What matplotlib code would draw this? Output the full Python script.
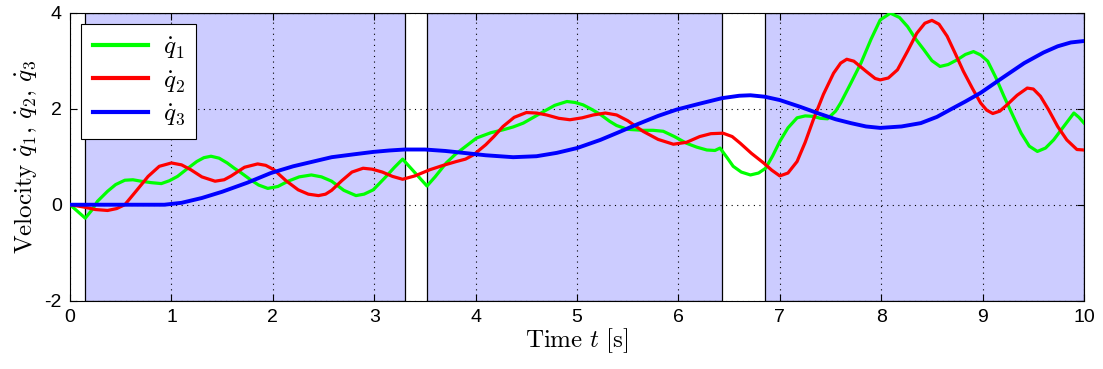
import numpy as np
import matplotlib
matplotlib.use('Agg')
from matplotlib import pyplot as plt

plt.rcParams['mathtext.fontset'] = 'cm'
plt.rcParams['font.family'] = ['Liberation Sans', 'DejaVu Sans']
plt.rcParams['axes.unicode_minus'] = False

# Velocity curves (time in s)
t_q1 = [0.0, 0.15, 0.22, 0.27, 0.37, 0.45, 0.54, 0.62, 0.70, 0.80, 0.90, 0.98, 1.06, 1.15, 1.25,
        1.32, 1.39, 1.47, 1.55, 1.62, 1.69, 1.78, 1.86, 1.95, 2.05, 2.15, 2.26, 2.38, 2.48, 2.58,
        2.70, 2.82, 2.90, 2.99, 3.10, 3.20, 3.28, 3.40, 3.52, 3.60, 3.71, 3.80, 3.88, 4.01, 4.15,
        4.27, 4.37, 4.47, 4.57, 4.67, 4.78, 4.90, 4.98, 5.06, 5.15, 5.23, 5.32, 5.39, 5.50, 5.65,
        5.75, 5.85, 5.96, 6.08, 6.18, 6.28, 6.36, 6.41, 6.48, 6.54, 6.62, 6.71, 6.79, 6.86, 6.93,
        7.00, 7.08, 7.17, 7.25, 7.33, 7.40, 7.47, 7.55, 7.60, 7.70, 7.80, 7.90, 7.99, 8.09, 8.18,
        8.26, 8.34, 8.42, 8.50, 8.58, 8.66, 8.75, 8.83, 8.91, 8.98, 9.05, 9.13, 9.21, 9.30, 9.38,
        9.46, 9.54, 9.62, 9.70, 9.80, 9.90, 9.95, 10.0]
q1 = [0.0, -0.28, -0.10, 0.07, 0.28, 0.42, 0.51, 0.52, 0.49, 0.46, 0.44, 0.50, 0.59, 0.74, 0.90,
      0.98, 1.01, 0.97, 0.87, 0.76, 0.66, 0.52, 0.41, 0.34, 0.38, 0.49, 0.58, 0.62, 0.58, 0.49,
      0.30, 0.19, 0.22, 0.31, 0.55, 0.78, 0.95, 0.67, 0.39, 0.58, 0.87, 1.05, 1.18, 1.39, 1.50,
      1.56, 1.62, 1.70, 1.82, 1.94, 2.07, 2.15, 2.13, 2.08, 1.98, 1.88, 1.74, 1.65, 1.57, 1.55,
      1.55, 1.53, 1.42, 1.28, 1.20, 1.14, 1.13, 1.18, 0.98, 0.80, 0.68, 0.62, 0.66, 0.76, 1.02,
      1.32, 1.60, 1.81, 1.85, 1.84, 1.80, 1.79, 1.95, 2.12, 2.53, 2.95, 3.45, 3.85, 3.99, 3.90,
      3.71, 3.45, 3.23, 3.00, 2.88, 2.92, 3.02, 3.13, 3.19, 3.12, 2.99, 2.65, 2.26, 1.85, 1.49,
      1.22, 1.11, 1.18, 1.35, 1.63, 1.91, 1.82, 1.70]

t_q2 = [0.0, 0.14, 0.25, 0.37, 0.46, 0.54, 0.65, 0.77, 0.88, 1.00, 1.10, 1.19, 1.30, 1.43, 1.52,
        1.59, 1.72, 1.85, 1.93, 2.01, 2.13, 2.25, 2.35, 2.45, 2.52, 2.58, 2.68, 2.78, 2.89, 2.98,
        3.08, 3.18, 3.28, 3.40, 3.55, 3.68, 3.81, 3.90, 3.98, 4.10, 4.18, 4.27, 4.38, 4.50, 4.60,
        4.70, 4.82, 4.93, 5.05, 5.16, 5.28, 5.39, 5.50, 5.65, 5.80, 5.95, 6.08, 6.21, 6.32, 6.44,
        6.53, 6.61, 6.72, 6.84, 6.92, 7.00, 7.08, 7.17, 7.25, 7.33, 7.43, 7.53, 7.60, 7.66, 7.73,
        7.85, 7.94, 7.99, 8.07, 8.16, 8.26, 8.35, 8.43, 8.50, 8.57, 8.65, 8.73, 8.81, 8.90, 8.98,
        9.04, 9.10, 9.17, 9.24, 9.34, 9.44, 9.50, 9.57, 9.65, 9.74, 9.83, 9.93, 10.0]
q2 = [0.0, -0.05, -0.10, -0.12, -0.08, 0.0, 0.28, 0.59, 0.80, 0.87, 0.83, 0.73, 0.58, 0.49, 0.52,
      0.60, 0.78, 0.85, 0.82, 0.73, 0.50, 0.31, 0.22, 0.19, 0.22, 0.30, 0.50, 0.68, 0.76, 0.74,
      0.68, 0.59, 0.53, 0.60, 0.73, 0.82, 0.90, 0.95, 1.04, 1.25, 1.42, 1.63, 1.82, 1.92, 1.91,
      1.87, 1.80, 1.77, 1.81, 1.87, 1.91, 1.87, 1.75, 1.53, 1.36, 1.26, 1.30, 1.42, 1.48, 1.49,
      1.42, 1.28, 1.07, 0.87, 0.72, 0.60, 0.66, 0.90, 1.30, 1.77, 2.30, 2.74, 2.95, 3.03, 2.99,
      2.78, 2.63, 2.60, 2.64, 2.81, 3.20, 3.57, 3.78, 3.84, 3.76, 3.51, 3.15, 2.78, 2.42, 2.12,
      1.97, 1.90, 1.95, 2.08, 2.28, 2.43, 2.41, 2.26, 1.98, 1.63, 1.35, 1.15, 1.14]

t_q3 = [0.0, 0.5, 0.93, 1.1, 1.3, 1.5, 1.75, 1.98, 2.2, 2.4, 2.58, 2.8, 2.99, 3.15, 3.3, 3.5,
        3.7, 3.88, 4.1, 4.37, 4.6, 4.8, 5.0, 5.23, 5.4, 5.6, 5.8, 5.98, 6.2, 6.43, 6.6, 6.71,
        6.85, 7.0, 7.2, 7.37, 7.55, 7.7, 7.85, 7.99, 8.2, 8.39, 8.55, 8.68, 8.83, 8.98, 9.2,
        9.41, 9.6, 9.74, 9.87, 10.0]
q3 = [0.0, 0.0, 0.0, 0.04, 0.14, 0.27, 0.46, 0.66, 0.80, 0.90, 0.99, 1.05, 1.10, 1.13, 1.15, 1.15,
      1.12, 1.08, 1.03, 0.99, 1.01, 1.08, 1.18, 1.35, 1.50, 1.68, 1.85, 1.98, 2.10, 2.22, 2.27, 2.28,
      2.25, 2.18, 2.04, 1.91, 1.78, 1.70, 1.63, 1.60, 1.63, 1.70, 1.83, 1.98, 2.15, 2.33, 2.65,
      2.95, 3.17, 3.30, 3.38, 3.41]

# Shaded intervals
spans = [(0.15, 3.30), (3.52, 6.43), (6.85, 10.0)]

fig = plt.figure(figsize=(11.03, 3.69), dpi=100)
ax = fig.add_axes([0.0635, 0.185, 0.9193, 0.7806])

for a, b in spans:
    ax.axvspan(a, b, facecolor='#ccccff', edgecolor='black', linewidth=0.9, zorder=1)

ax.plot(t_q1, q1, color=(0, 1, 0), lw=2.3, label=r'$\dot{q}_1$', zorder=3)
ax.plot(t_q2, q2, color=(1, 0, 0), lw=2.3, label=r'$\dot{q}_2$', zorder=3)
ax.plot(t_q3, q3, color=(0, 0, 1), lw=2.8, label=r'$\dot{q}_3$', zorder=3)

ax.set_xlim(0, 10)
ax.set_ylim(-2, 4)
ax.set_xticks(np.arange(0, 11, 1))
ax.set_yticks([-2, 0, 2, 4])
ax.grid(True, color='black', linestyle=(0, (1, 4)), linewidth=0.8, zorder=2)
ax.tick_params(direction='in', length=5, labelsize=14, top=True, right=True, pad=6)
for s in ax.spines.values():
    s.set_linewidth(0.8)

ax.set_xlabel(r'$\mathrm{Time}\ t\ [\mathrm{s}]$', fontsize=18, labelpad=0)
ax.set_ylabel(r'$\mathrm{Velocity}\ \dot{q}_1,\,\dot{q}_2,\,\dot{q}_3$', fontsize=18, labelpad=4)

leg = ax.legend(loc='upper left', fontsize=18, fancybox=False, edgecolor='black', framealpha=1,
                handlelength=2.2, handleheight=0.9, borderaxespad=0.45, labelspacing=0.3,
                borderpad=0.45, handletextpad=0.6)
leg.get_frame().set_linewidth(0.8)
for line in leg.get_lines():
    line.set_linewidth(3.0)

fig.savefig('out.png', dpi=100)
